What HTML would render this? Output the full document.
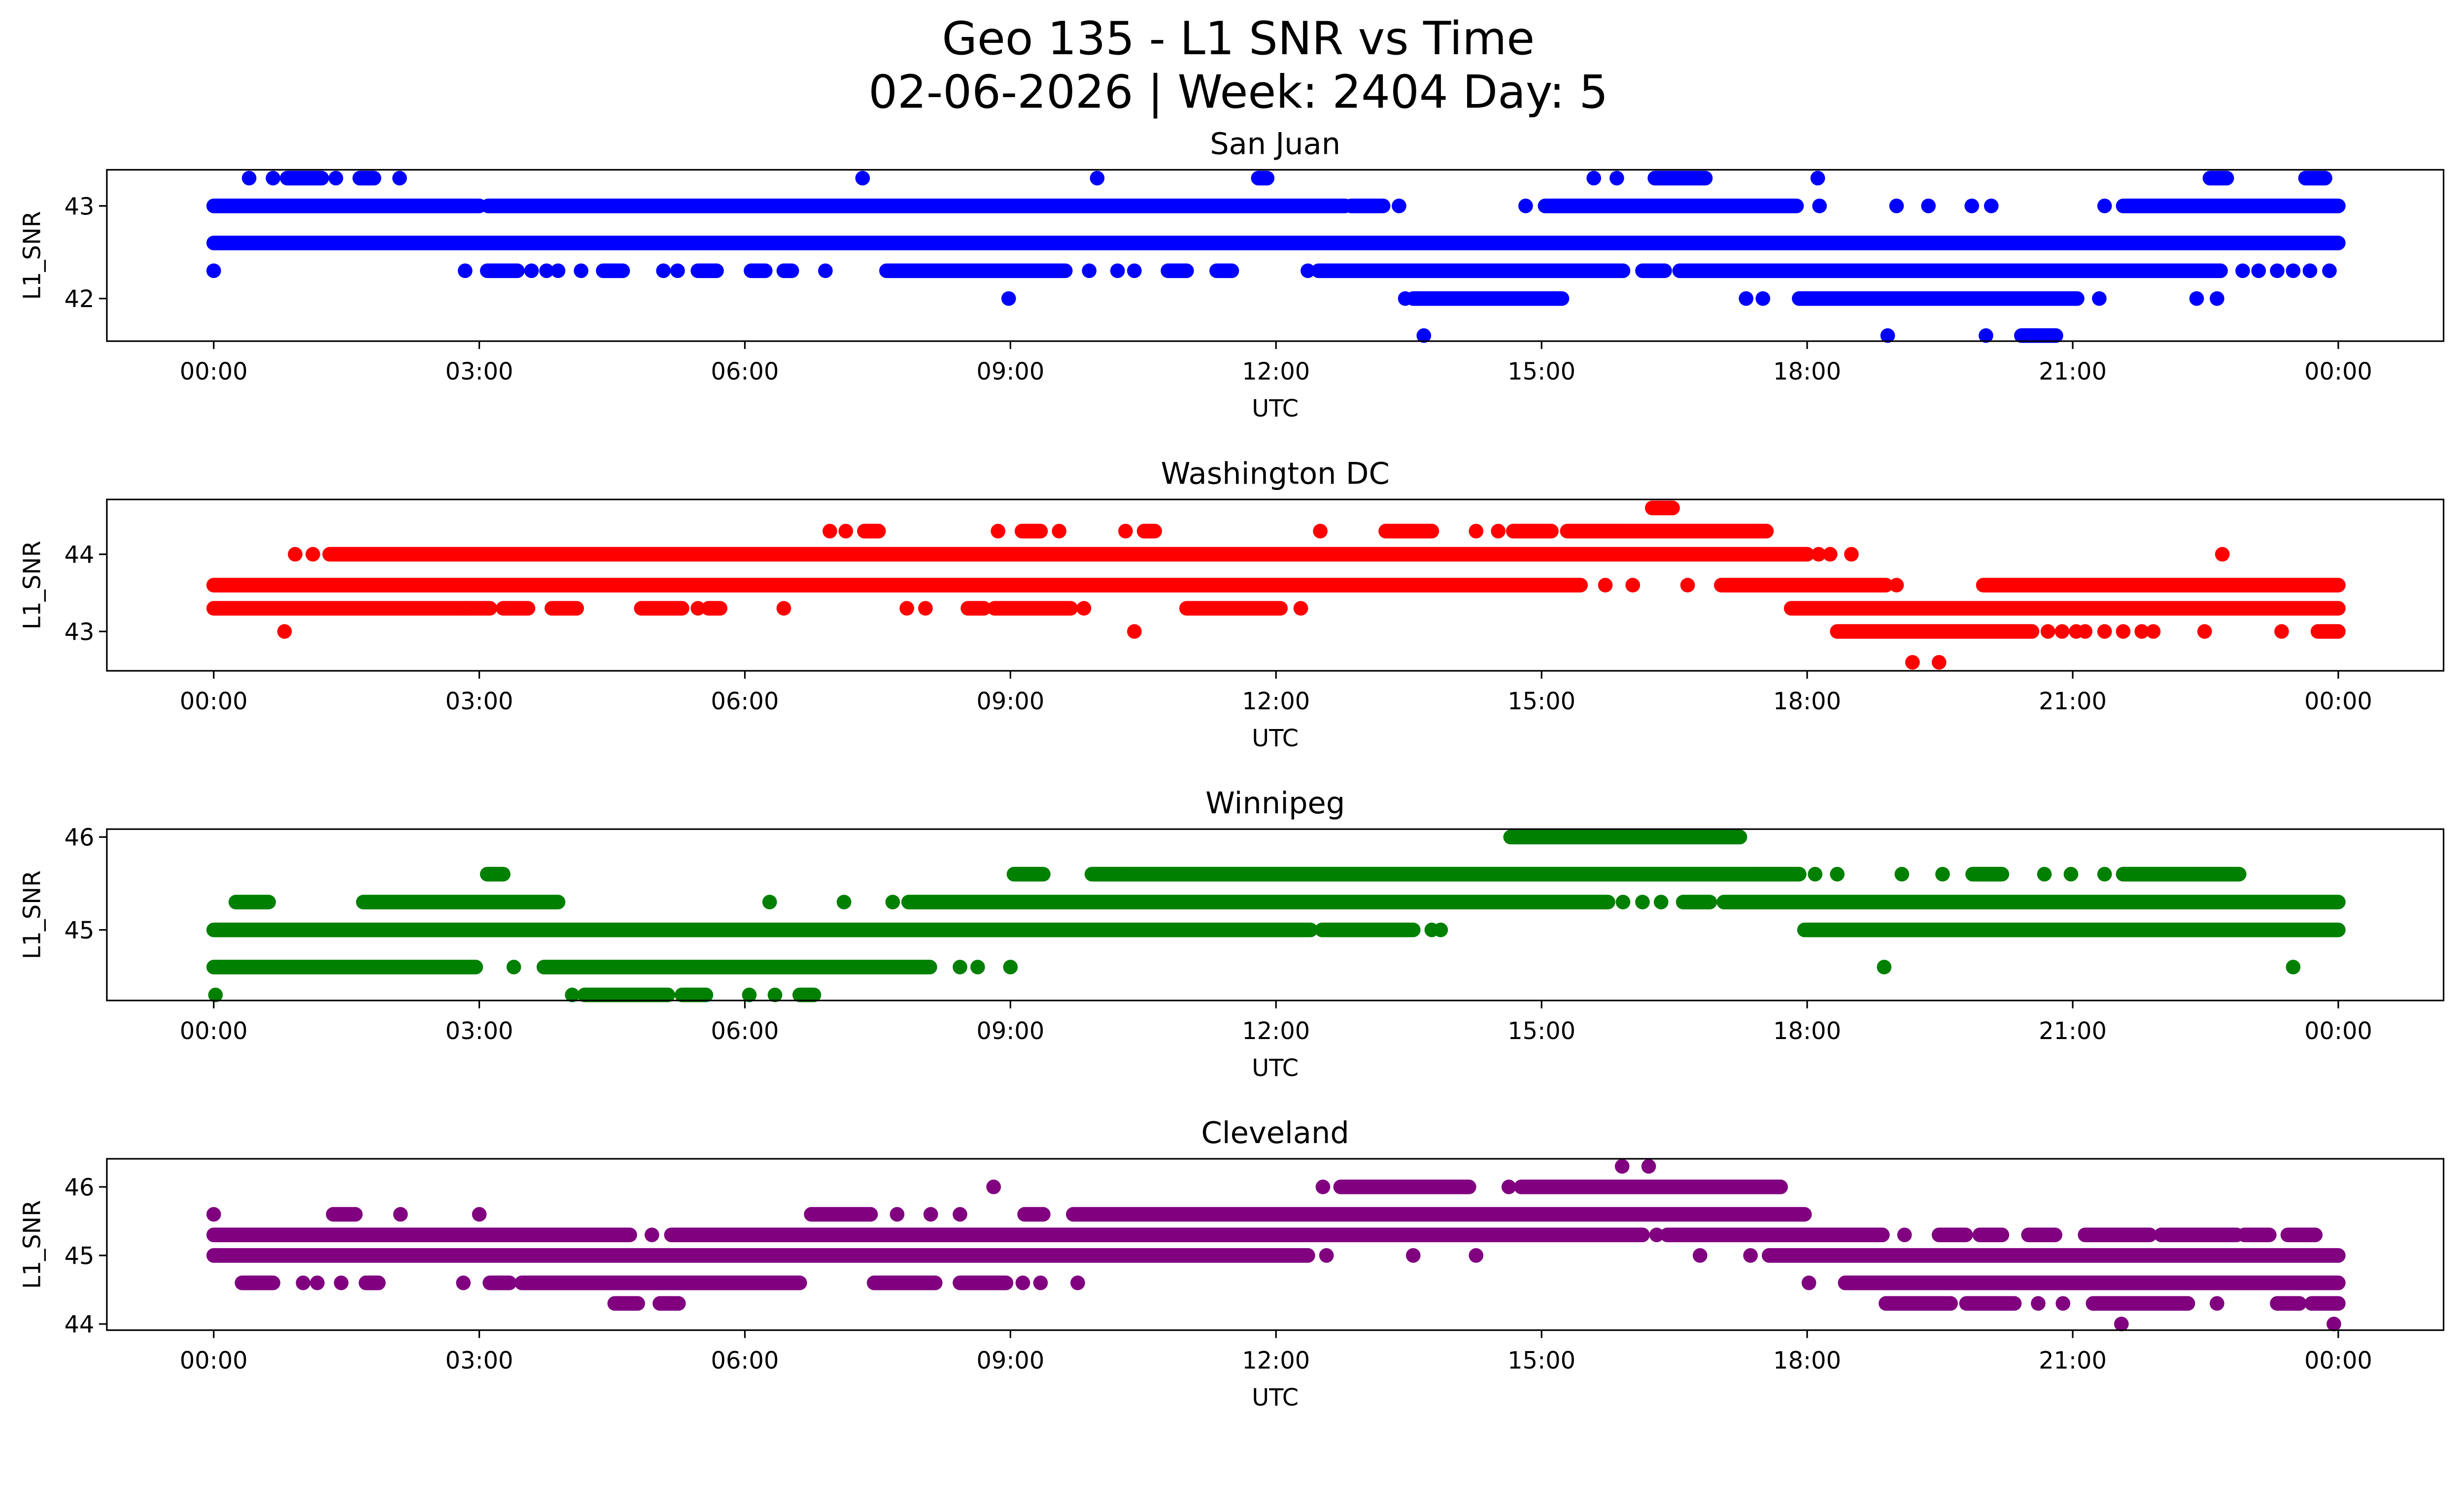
<!DOCTYPE html>
<html><head><meta charset="utf-8"><title>Geo 135 - L1 SNR vs Time</title>
<style>html,body{margin:0;padding:0;background:#fff;overflow:hidden}svg{display:block;width:100vw;height:calc(100vw * 3033 / 5225)}text{font-family:"DejaVu Sans","Liberation Sans",sans-serif;fill:#000}</style>
</head><body>
<svg id="chart" xmlns="http://www.w3.org/2000/svg" viewBox="0 0 1568 910" preserveAspectRatio="none">
<rect width="1568" height="910" fill="#fff"/>
<text x="788" y="34.5" font-size="29" text-anchor="middle">Geo 135 - L1 SNR vs Time</text>
<text x="788" y="68.5" font-size="29" text-anchor="middle">02-06-2026 | Week: 2404 Day: 5</text>
<g id="panels"></g>
</svg>
<script>
// ---- shared x axis ----
const xTickHours = [0, 3, 6, 9, 12, 15, 18, 21, 24];
const xTickLabels = ["00:00","03:00","06:00","09:00","12:00","15:00","18:00","21:00","00:00"];

// ---- San Juan ----
const sjLevels = [43.3, 43.0, 42.6, 42.3, 42.0, 41.6];
const sjRanges = [
  [0.4,0.67,[0.83,1.22],1.38,[1.65,1.81],2.1,7.33,9.98,[11.8,11.9],15.59,15.85,[16.28,16.85],18.12,[22.55,22.74],[23.63,23.85]],
  [[0,3.0],[3.1,12.78],[12.85,13.21],13.39,14.82,[15.04,17.88],18.14,19.01,19.37,19.86,20.08,21.36,[21.57,24]],
  [[0,24]],
  [0,2.84,[3.09,3.43],3.59,3.76,3.89,4.15,[4.4,4.62],5.08,5.24,[5.47,5.68],[6.07,6.23],[6.44,6.53],6.91,[7.6,9.62],9.89,10.21,10.4,[10.78,10.99],[11.33,11.5],12.36,[12.48,15.92],[16.14,16.39],[16.56,22.67],22.92,23.1,23.31,23.49,23.68,23.9],
  [8.98,13.46,[13.55,15.23],17.31,17.5,[17.91,21.05],21.3,22.4,22.63],
  [13.67,18.91,20.02,[20.42,20.81]]
];
const sjTicks = [42, 43];

// ---- Washington DC ----
const dcLevels = [44.6, 44.3, 44.0, 43.6, 43.3, 43.0, 42.6];
const dcRanges = [
  [[16.25,16.48]],
  [6.96,7.14,[7.35,7.51],8.86,[9.13,9.34],9.55,10.3,[10.51,10.63],12.5,[13.24,13.76],14.26,14.51,[14.68,15.11],[15.29,17.54]],
  [0.92,1.12,[1.31,18.0],18.13,18.26,18.5,22.69],
  [[0,15.44],15.72,16.03,16.65,[17.03,18.89],19.01,[19.99,24]],
  [[0,2.84],[2.84,3.12],[3.27,3.55],[3.82,4.1],[4.83,5.29],5.47,[5.59,5.72],6.44,7.83,8.04,[8.52,8.7],[8.82,9.68],9.83,[10.99,12.05],12.28,[17.82,24]],
  [0.8,10.4,[18.34,20.54],20.72,20.88,21.04,21.14,21.36,21.57,21.78,21.91,22.49,23.36,[23.77,24]],
  [19.19,19.49]
];
const dcTicks = [43, 44];

// ---- Winnipeg ----
const wpLevels = [46.0, 45.6, 45.3, 45.0, 44.6, 44.3];
const wpRanges = [
  [[14.65,17.24]],
  [[3.09,3.27],[9.04,9.37],[9.92,17.91],18.09,18.34,19.07,19.53,[19.87,20.2],20.68,20.98,21.36,[21.57,22.88]],
  [[0.25,0.62],[1.69,3.89],6.28,7.12,7.67,[7.85,15.75],15.92,16.14,16.35,[16.6,16.9],[17.06,24]],
  [[0,12.39],[12.52,13.55],13.76,13.86,[17.97,24]],
  [[0,2.96],3.39,[3.73,8.09],8.43,8.63,9.0,18.87,23.49],
  [0.02,4.05,[4.19,5.13],[5.29,5.56],6.05,6.34,[6.62,6.78]]
];
const wpTicks = [45, 46];

// ---- Cleveland ----
const clLevels = [46.3, 46.0, 45.6, 45.3, 45.0, 44.6, 44.3, 44.0];
const clRanges = [
  [15.91,16.21],
  [8.81,12.53,[12.73,14.18],14.63,[14.77,17.7]],
  [0,[1.35,1.6],2.11,3.0,[6.75,7.42],7.72,8.1,8.43,[9.16,9.37],[9.71,17.97]],
  [[0,4.7],4.95,[5.17,16.14],16.3,[16.42,18.85],19.1,[19.49,19.79],[19.95,20.2],[20.5,20.8],[21.14,21.87],[22.0,22.85],[22.94,23.22],[23.43,23.74]],
  [[0,12.36],12.57,13.55,14.26,16.79,17.36,[17.57,24]],
  [[0.32,0.67],1.01,1.17,1.44,[1.72,1.86],2.82,[3.12,3.34],[3.48,6.62],[7.46,8.15],[8.43,8.95],9.14,9.34,9.76,18.02,[18.43,24]],
  [[4.53,4.79],[5.04,5.25],[18.89,19.62],[19.8,20.34],20.61,20.89,[21.23,22.3],22.63,[23.31,23.56],[23.7,24]],
  [21.55,23.95]
];
const clTicks = [44, 45, 46];

const panels = [
  {name:"san-juan", title:"San Juan", color:"#0000ff", levels:sjLevels, ranges:sjRanges, ticks:sjTicks, yMin:41.54, yMax:43.39},
  {name:"washington-dc", title:"Washington DC", color:"#ff0000", levels:dcLevels, ranges:dcRanges, ticks:dcTicks, yMin:42.49, yMax:44.71},
  {name:"winnipeg", title:"Winnipeg", color:"#008000", levels:wpLevels, ranges:wpRanges, ticks:wpTicks, yMin:44.24, yMax:46.085},
  {name:"cleveland", title:"Cleveland", color:"#800080", levels:clLevels, ranges:clRanges, ticks:clTicks, yMin:43.91, yMax:46.41}
];

const NS = "http://www.w3.org/2000/svg";
const AX_L = 68, AX_R = 1555, AX_H = 109, PANEL_STEP = 209.7, FIRST_TOP = 108;
const X0 = 136, X1 = 1488, R = 4.65;
function xScale(h){ return X0 + (h/24)*(X1-X0); }
function mk(tag, attrs, parent){ const e=document.createElementNS(NS,tag); for(const k in attrs) e.setAttribute(k,attrs[k]); parent.appendChild(e); return e; }

const root = document.getElementById("panels");
panels.forEach((p, i) => {
  const top = FIRST_TOP + i*PANEL_STEP, bottom = top + AX_H;
  const yScale = v => top + (p.yMax - v)/(p.yMax - p.yMin)*AX_H;
  const g = mk("g", {}, root);
  
  

  const title = mk("text", {x:(AX_L+AX_R)/2, y:top-10, "font-size":"19", "text-anchor":"middle"}, g);
  title.textContent = p.title;
  
  

  const pts = mk("g", {fill:p.color, stroke:p.color}, g);
  
  
  p.levels.forEach((lv, li) => {
    const y = yScale(lv);
    p.ranges[li].forEach(r => {
      if (Array.isArray(r) && r[1] > r[0]) {
        const ln = mk("line", {x1:xScale(r[0]), x2:xScale(r[1]), y1:y, y2:y, "stroke-width":2*R, "stroke-linecap":"round"}, pts);
        
        
      } else {
        const h = Array.isArray(r) ? r[0] : r;
        const c = mk("circle", {cx:xScale(h), cy:y, r:R, stroke:"none"}, pts);
        
        
      }
    });
  });

  const frame = mk("rect", {x:AX_L, y:top, width:AX_R-AX_L, height:AX_H, fill:"none", stroke:"#000", "stroke-width":"1"}, g);
  
  

  xTickHours.forEach((h, ti) => {
    const x = xScale(h);
    mk("line", {x1:x, x2:x, y1:bottom, y2:bottom+5, stroke:"#000", "stroke-width":"1"}, g);
    const t = mk("text", {x:x, y:bottom+24.5, "font-size":"15", "text-anchor":"middle"}, g);
    t.textContent = xTickLabels[ti];
    
    
  });
  const xl = mk("text", {x:(AX_L+AX_R)/2, y:bottom+48, "font-size":"15", "text-anchor":"middle"}, g);
  xl.textContent = "UTC";
  
  

  p.ticks.forEach(v => {
    const y = yScale(v);
    mk("line", {x1:AX_L-5, x2:AX_L, y1:y, y2:y, stroke:"#000", "stroke-width":"1"}, g);
    const t = mk("text", {x:AX_L-8, y:y+5.5, "font-size":"15", "text-anchor":"end"}, g);
    t.textContent = String(v);
    
    
  });
  const yc = top + AX_H/2;
  const yl = mk("text", {x:0, y:0, "font-size":"15", "text-anchor":"middle", transform:"translate(25.5," + yc + ") rotate(-90)"}, g);
  yl.textContent = "L1_SNR";
  
  
});
</script>
</body></html>
